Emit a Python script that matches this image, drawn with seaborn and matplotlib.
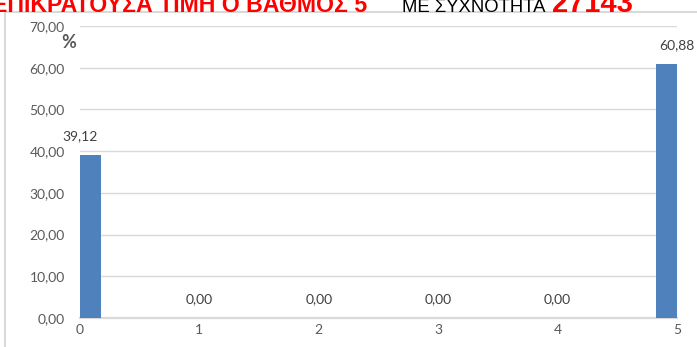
import matplotlib
matplotlib.use("Agg")
import matplotlib.pyplot as plt
import seaborn as sns
import pandas as pd
from matplotlib.patches import Rectangle

categories = ["0", "1", "2", "3", "4", "5"]
values = [39.12, 0.00, 0.00, 0.00, 0.00, 60.88]
yticks = [0, 10, 20, 30, 40, 50, 60, 70]
title_red = "ΕΠΙΚΡΑΤΟΥΣΑ ΤΙΜΗ Ο ΒΑΘΜΟΣ 5"
title_black = "ΜΕ ΣΥΧΝΟΤΗΤΑ"
title_num = "27143"

sns.set_theme(style="white")
plt.rcParams['font.family'] = ['Lato', 'DejaVu Sans']

df = pd.DataFrame({"grade": categories, "pct": values})

W, H = 697, 347
fig = plt.figure(figsize=(W / 100, H / 100), dpi=100)
ax = fig.add_axes([80 / W, 1 - 318 / H, (677 - 80) / W, (318 - 26) / H])

# chart outer border
fig.patches.append(Rectangle((5 / W, -0.1), 1.2, 1 - 12 / H + 0.1,
                             transform=fig.transFigure, fill=False,
                             edgecolor="#d9d9d9", linewidth=1.5, zorder=0))

sns.barplot(data=df, x="grade", y="pct", color="#4f81bd", saturation=1,
            width=0.35, ax=ax, zorder=3)
for p in ax.patches:
    p.set_edgecolor("none")

ax.set_xlim(0, 5)
ax.set_ylim(0, 70)
ax.set_yticks(yticks)
ax.set_yticklabels([f"{t:.2f}".replace(".", ",") for t in yticks])
ax.grid(axis="y", color="#d9d9d9", linewidth=1.0, zorder=0)
ax.set_axisbelow(True)
ax.set_xlabel("")
ax.set_ylabel("")
for s in ["top", "right", "left"]:
    ax.spines[s].set_visible(False)
ax.spines["bottom"].set_color("#d9d9d9")
ax.spines["bottom"].set_linewidth(1.6)
ax.tick_params(axis="y", length=0, pad=11, labelsize=10, labelcolor="#595959")
ax.tick_params(axis="x", length=0, pad=4, labelsize=10, labelcolor="#595959")

labels = [f"{v:.2f}".replace(".", ",") for v in values]
ax.bar_label(ax.containers[0], labels=labels, padding=9, fontsize=10,
             color="#404040", clip_on=False)

fig.text(69 / W, 1 - 42 / H, "%", fontsize=13, fontweight="bold",
         color="#595959", ha="center", va="center")

base_y = 1 - 11.5 / H
fig.text(367 / W, base_y, title_red, color="#ff0000", fontsize=16.7,
         fontweight="bold", ha="right", va="baseline", family="Liberation Sans")
fig.text(402 / W, base_y, title_black, color="#000000", fontsize=13.3,
         ha="left", va="baseline", family="Liberation Sans")
fig.text(552 / W, base_y, title_num, color="#ff0000", fontsize=21,
         fontweight="bold", ha="left", va="baseline", family="Liberation Sans")

fig.savefig("out.png", dpi=100, facecolor="white")
